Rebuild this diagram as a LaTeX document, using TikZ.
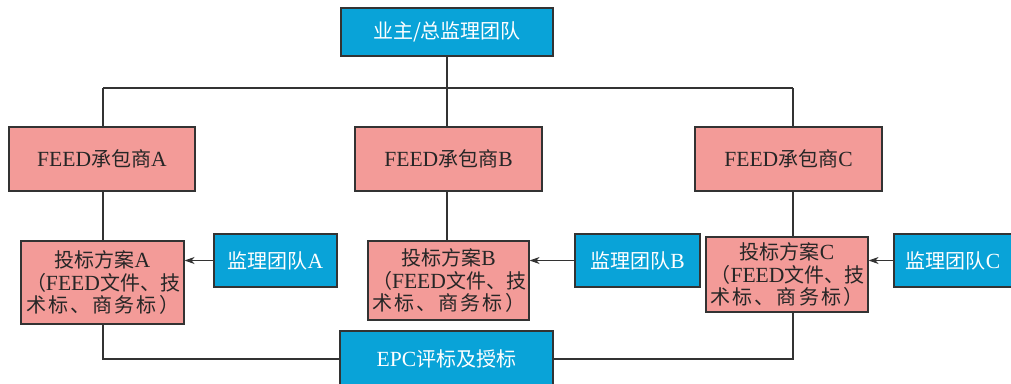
\documentclass[tikz,border=0pt]{standalone}
\usepackage{fontspec}
\setmainfont{Liberation Serif}[Scale=1.08]
\newfontfamily\cjk{Noto Sans CJK SC}
\usetikzlibrary{arrows.meta}
\definecolor{teamblue}{HTML}{09A3D8}
\definecolor{bidpink}{HTML}{F39B98}
\definecolor{edge}{HTML}{333333}
\newcommand{\zh}[1]{{\cjk #1}}
\newcommand{\spreadline}[1]{\makebox[153pt][s]{#1}}
\newcommand{\bidtext}[1]{%
  \zh{投标方案}#1\\
  \spreadline{\zh{（}\hfil FEED\hfil\zh{文}\hfil\zh{件}\hfil\zh{、}\hfil\zh{技}}\\
  \spreadline{\zh{术}\hfil\zh{标}\hfil\zh{、}\hfil\zh{商}\hfil\zh{务}\hfil\zh{标}\hfil\zh{）}}}
\tikzset{
  box/.style={draw=edge, line width=1.1pt, inner sep=0pt, align=center,
    font=\fontsize{20}{22.5}\selectfont},
  bluebox/.style={box, fill=teamblue, text=white},
  pinkbox/.style={box, fill=bidpink, text=black!85},
  link/.style={draw=edge, line width=1.1pt},
  feed/.style={link, -{Stealth[length=10pt, width=7pt, inset=3pt]}}
}
\begin{document}
\begin{tikzpicture}[x=1pt, y=-1pt]
\useasboundingbox (0,0) rectangle (1011,383);
\clip (0,0) rectangle (1011,383);

% owner / supervision team
\node[bluebox, minimum width=212pt, minimum height=48pt] (top) at (447,32) {\zh{业主/总监理团队}};

% FEED contractors
\node[pinkbox, minimum width=186pt, minimum height=64pt] (fa) at (102,159) {FEED\zh{承包商}A};
\node[pinkbox, minimum width=187pt, minimum height=64pt] (fb) at (448.5,159) {FEED\zh{承包商}B};
\node[pinkbox, minimum width=187pt, minimum height=64pt] (fc) at (788.5,159) {FEED\zh{承包商}C};

% bid proposals
\node[pinkbox, minimum width=163pt, minimum height=83pt] (ta) at (102.5,282.5) {\bidtext{A}};
\node[pinkbox, minimum width=161pt, minimum height=79pt] (tb) at (448.5,280.5) {\bidtext{B}};
\node[pinkbox, minimum width=162pt, minimum height=75pt] (tc) at (787,274.5) {\bidtext{C}};

% supervision teams
\node[bluebox, minimum width=123pt, minimum height=53pt] (ja) at (275.5,260.5) {\zh{监理团队}A};
\node[bluebox, minimum width=125pt, minimum height=53pt] (jb) at (637.5,260.5) {\zh{监理团队}B};
\node[bluebox, minimum width=118pt, minimum height=53pt] (jc) at (953,260.5) {\zh{监理团队}C};

% EPC evaluation
\node[bluebox, minimum width=213pt, minimum height=56pt] (epc) at (446.5,359) {EPC\zh{评标及授标}};

% bus from the owner to the contractors
\coordinate (bus) at (447,88);
\coordinate (busa) at (103,88);
\coordinate (busc) at (793,88);
\draw[link] (top.south) -- (bus);
\draw[link] (busa) -- (busc);
\draw[link] (busa) -- (busa |- fa.north);
\draw[link] (bus) -- (fb.north -| bus);
\draw[link] (busc) -- (busc |- fc.north);

% contractors to proposals
\draw[link] (fa.south -| busa) -- (ta.north -| busa);
\draw[link] (fb.south -| bus) -- (tb.north -| bus);
\draw[link] (fc.south -| busc) -- (tc.north -| busc);

% supervision input
\draw[feed] (ja.west) -- (ja.west -| ta.east);
\draw[feed] (jb.west) -- (jb.west -| tb.east);
\draw[feed] (jc.west) -- (jc.west -| tc.east);

% proposals to evaluation
\draw[link] (ta.south -| busa) |- (epc.west);
\draw[link] (tc.south -| busc) |- (epc.east);
\end{tikzpicture}
\end{document}
